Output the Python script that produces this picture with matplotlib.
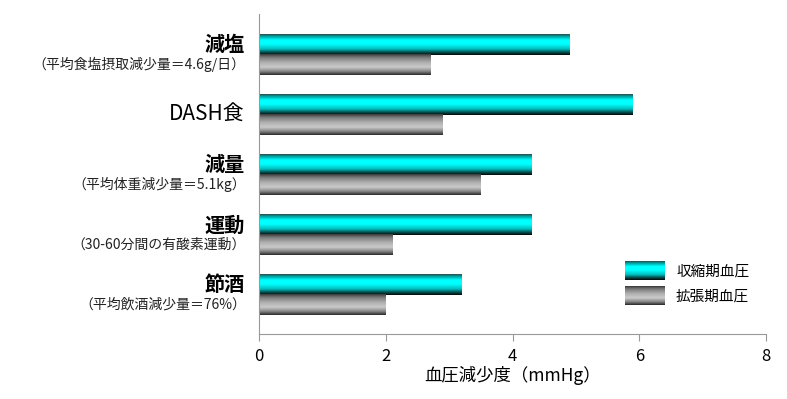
import numpy as np
import matplotlib
matplotlib.use("Agg")
import matplotlib.pyplot as plt
from matplotlib.colors import LinearSegmentedColormap
from matplotlib.legend_handler import HandlerBase
from matplotlib.image import BboxImage
from matplotlib.transforms import Bbox, TransformedBbox, blended_transform_factory
from matplotlib.patches import Patch

plt.rcParams['font.family'] = ['Noto Sans CJK JP', 'DejaVu Sans']

# === データ ===
categories = ['減塩', 'DASH食', '減量', '運動', '節酒']
notes = ['（平均食塩摂取減少量＝4.6g/日）', '', '（平均体重減少量＝5.1kg）',
         '（30-60分間の有酸素運動）', '（平均飲酒減少量＝76%）']
systolic = [4.9, 5.9, 4.3, 4.3, 3.2]
diastolic = [2.7, 2.9, 3.5, 2.1, 2.0]
series_labels = ['収縮期血圧', '拡張期血圧']

# 円柱っぽいグラデーション (上 -> 下)
cyan_cmap = LinearSegmentedColormap.from_list('cyan_bar', [
    (0.0, '#2b4f4f'), (0.12, '#00a8a8'), (0.28, '#00ffff'), (0.48, '#00ffff'),
    (0.72, '#00bcbc'), (0.86, '#005858'), (1.0, '#000a0a')])
gray_cmap = LinearSegmentedColormap.from_list('gray_bar', [
    (0.0, '#3a3a3a'), (0.15, '#7a7a7a'), (0.4, '#b0b0b0'), (0.62, '#cacaca'),
    (0.82, '#8a8a8a'), (1.0, '#2a2a2a')])
grad = np.linspace(0, 1, 64).reshape(-1, 1)


class GradientHandler(HandlerBase):
    def __init__(self, cmap):
        super().__init__()
        self.cmap = cmap

    def create_artists(self, legend, orig_handle, xdescent, ydescent,
                       width, height, fontsize, trans):
        bb = TransformedBbox(Bbox.from_bounds(-xdescent, -ydescent, width, height), trans)
        img = BboxImage(bb, cmap=self.cmap, interpolation='bilinear')
        img.set_data(grad)
        return [img]


fig = plt.figure(figsize=(7.87, 3.99), dpi=100)
ax = fig.add_axes([259 / 787, 65 / 399, 507 / 787, 320 / 399])

pos = np.arange(len(categories))[::-1]
h = 1 / 3
bars_s = ax.barh(pos + h / 2, systolic, height=h, color='none')
bars_d = ax.barh(pos - h / 2, diastolic, height=h, color='none')

for bars, cmap in [(bars_s, cyan_cmap), (bars_d, gray_cmap)]:
    for b in bars:
        x0, y0, w, hh = b.get_x(), b.get_y(), b.get_width(), b.get_height()
        ax.imshow(grad, extent=(x0, x0 + w, y0, y0 + hh), origin='upper',
                  cmap=cmap, aspect='auto', interpolation='bilinear', zorder=2)

ax.set_xlim(0, 8)
ax.set_ylim(-0.65, 4.68)
ax.set_xticks([0, 2, 4, 6, 8])
ax.set_yticks([])
ax.tick_params(axis='x', direction='out', length=5, color='#999999',
               labelsize=12, pad=5)
for s in ['top', 'right']:
    ax.spines[s].set_visible(False)
for s in ['left', 'bottom']:
    ax.spines[s].set_color('#999999')
ax.set_xlabel('血圧減少度（mmHg）', fontsize=12.5, labelpad=1)

# 縦軸ラベル (項目名 + 注記)
tr = blended_transform_factory(ax.transAxes, ax.transData)
for p, name, note in zip(pos, categories, notes):
    if note:
        ax.text(-0.028, p + h / 2, name, transform=tr, ha='right', va='center',
                fontsize=14.5, fontweight='bold')
        ax.text(-0.026, p - h / 2, note, transform=tr, ha='right', va='center',
                fontsize=10, color='#222222')
    else:
        ax.text(-0.028, p, name, transform=tr, ha='right', va='center',
                fontsize=15)

handles = [Patch(label=series_labels[0]), Patch(label=series_labels[1])]
ax.legend(handles=handles, labels=series_labels,
          handler_map={handles[0]: GradientHandler(cyan_cmap),
                       handles[1]: GradientHandler(gray_cmap)},
          loc='upper left', bbox_to_anchor=(625 / 787, (399 - 262) / 399),
          bbox_transform=fig.transFigure, frameon=False, fontsize=10.5,
          handlelength=2.7, handleheight=1.55, labelspacing=0.45,
          handletextpad=0.8, borderpad=0, borderaxespad=0)

fig.savefig('out.png', dpi=100)
